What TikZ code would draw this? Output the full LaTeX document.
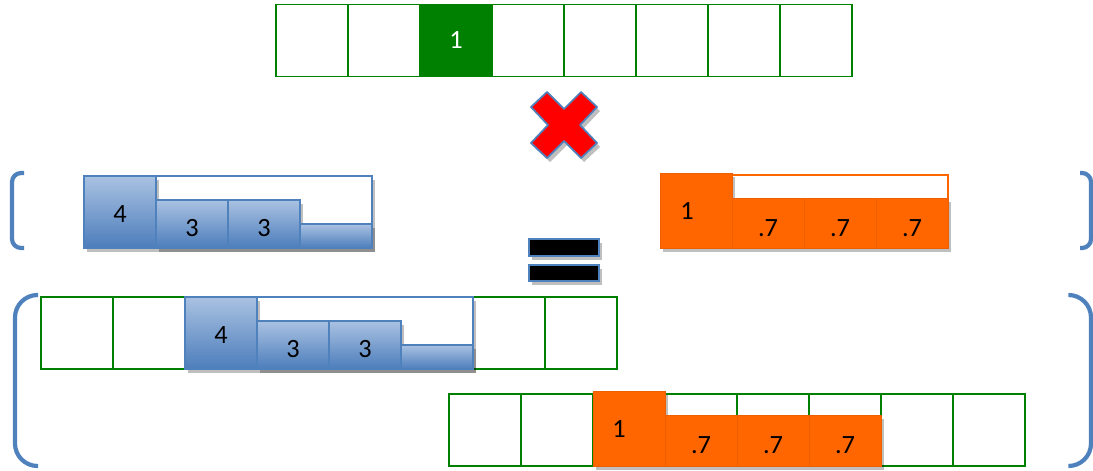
\documentclass[tikz,border=0pt]{standalone}
\usepackage{fontspec}
\setmainfont{Carlito}
\usetikzlibrary{positioning,shadows}

\definecolor{gridgreen}{RGB}{0,128,0}
\definecolor{kblue}{RGB}{79,129,189}
\definecolor{ktop}{RGB}{170,194,226}
\definecolor{kbot}{RGB}{76,125,187}
\definecolor{korange}{RGB}{255,102,0}
\definecolor{xred}{RGB}{255,0,0}

\begin{document}
\begin{tikzpicture}[
    softshadow/.style={drop shadow={shadow xshift=0.06cm, shadow yshift=-0.08cm, opacity=0.25, fill=black}},
    num/.style={font=\fontsize{15}{17}\selectfont},
    cell/.style={draw=gridgreen, line width=1.1pt, minimum width=1.44cm, minimum height=1.44cm, inner sep=0pt, outer sep=0pt},
    hotcell/.style={cell, fill=gridgreen, text=white, font=\fontsize{15}{17}\selectfont},
    frame/.style={draw=kblue, fill=white, line width=0.9pt, minimum width=4.32cm, minimum height=1.44cm, inner sep=0pt, outer sep=0pt, softshadow},
    bluecell/.style={draw=kblue, line width=0.9pt, top color=ktop, bottom color=kbot, minimum width=1.44cm, inner sep=0pt, outer sep=0pt, softshadow},
    oframe/.style={draw=korange, fill=white, line width=0.8pt, minimum width=4.32cm, minimum height=1.46cm, inner sep=0pt, outer sep=0pt},
    ocell/.style={draw=korange!93!black, line width=0.4pt, fill=korange, minimum width=1.44cm, inner sep=0pt, outer sep=0pt, softshadow},
    bar/.style={draw=kblue, fill=black, line width=1.2pt, minimum width=1.40cm, minimum height=0.33cm, inner sep=0pt, softshadow},
    xmark/.style={draw=kblue, fill=xred, line width=1pt, line join=round, softshadow},
    brace/.style={draw=kblue, line width=2.4pt}
]
\useasboundingbox (0,0) rectangle (21.86,-9.42);

% input row
\foreach \i in {1,2,4,5,6,7,8}
    \node[cell] (t\i) at ({6.24+1.44*(\i-1)}, -0.81) {};
\node[hotcell] (t3) at (9.12, -0.81) {1};

% times sign
\draw[xmark, shift={(11.28,-2.5)}] (-0.66,0.36) -- (-0.34,0.66) -- (0,0.32) -- (0.34,0.66) -- (0.66,0.36) -- (0.32,0)
    -- (0.66,-0.36) -- (0.34,-0.66) -- (0,-0.32) -- (-0.34,-0.66) -- (-0.66,-0.36) -- (-0.32,0) -- cycle;

% blue kernel
\node[frame] (kframe) at (5.28,-4.24) {};
\node[bluecell, minimum height=1.44cm, label={[num, yshift=-0.04cm]center:4}] (k1) at (2.40,-4.24) {};
\node[bluecell, minimum height=0.96cm, label={[num, yshift=-0.08cm]center:3}] (k2) at (3.84,-4.48) {};
\node[bluecell, minimum height=0.96cm, label={[num, yshift=-0.08cm]center:3}] (k3) at (5.28,-4.48) {};
\node[bluecell, minimum height=0.48cm] (k4) at (6.72,-4.72) {};

% orange kernel
\node[oframe] (oframe) at (16.80,-4.23) {};
\node[ocell, minimum height=1.50cm, label={[num, xshift=-0.18cm, yshift=-0.02cm]center:1}] (o1) at (13.92,-4.21) {};
\foreach \x [count=\j from 2] in {15.36,16.80,18.24}
    \node[ocell, minimum height=1.0cm, label={[num, yshift=-0.1cm]center:.7}] (o\j) at (\x,-4.46) {};

% equals sign
\node[bar] (eq1) at (11.28,-4.95) {};
\node[bar] (eq2) at (11.28,-5.46) {};

% brackets
\draw[brace, rounded corners=0.18cm] (0.48,-3.46) -- (0.24,-3.46) -- (0.24,-4.96) -- (0.48,-4.96);
\draw[brace, rounded corners=0.18cm] (21.60,-3.46) -- (21.82,-3.46) -- (21.82,-4.96) -- (21.60,-4.96);
\draw[brace, rounded corners=0.45cm] (0.76,-5.90) -- (0.30,-5.90) -- (0.30,-9.32) -- (0.76,-9.32);
\draw[brace, rounded corners=0.45cm] (21.38,-5.90) -- (21.82,-5.90) -- (21.82,-9.32) -- (21.38,-9.32);

% shifted blue kernel
\foreach \i in {1,...,8}
    \node[cell] (b\i) at ({1.54+1.44*(\i-1)}, -6.66) {};
\node[frame] (bframe) at (b5) {};
\node[bluecell, minimum height=1.44cm, label={[num, yshift=-0.04cm]center:4}] (bk1) at (b3) {};
\node[bluecell, minimum height=0.96cm, anchor=south, label={[num, yshift=-0.08cm]center:3}] (bk2) at (b4.south) {};
\node[bluecell, minimum height=0.96cm, anchor=south, label={[num, yshift=-0.08cm]center:3}] (bk3) at (b5.south) {};
\node[bluecell, minimum height=0.48cm, anchor=south] (bk4) at (b6.south) {};

% shifted orange kernel
\foreach \i in {1,...,8}
    \node[cell] (c\i) at ({9.70+1.44*(\i-1)}, -8.60) {};
\node[ocell, minimum height=1.50cm, anchor=south, label={[num, xshift=-0.2cm, yshift=-0.02cm]center:1}] (co1) at (c3.south) {};
\foreach \i [count=\j from 2] in {4,5,6}
    \node[ocell, minimum height=1.02cm, anchor=south, label={[num, yshift=-0.1cm]center:.7}] (co\j) at (c\i.south) {};
\end{tikzpicture}
\end{document}
